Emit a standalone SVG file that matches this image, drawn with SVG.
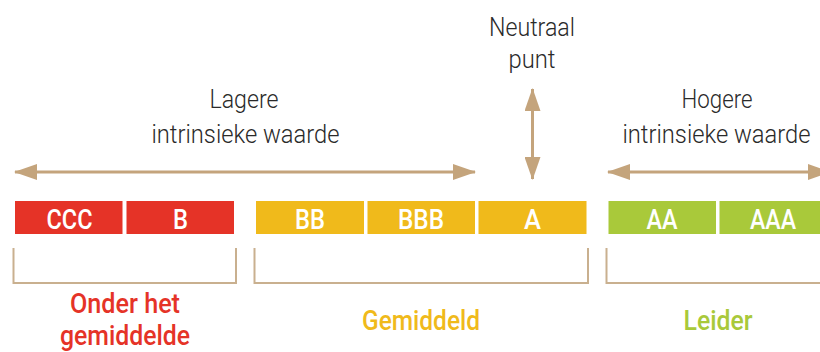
<svg xmlns="http://www.w3.org/2000/svg" width="820" height="352" viewBox="0 0 820 352">
  <defs>
    <marker id="ah" markerUnits="userSpaceOnUse" markerWidth="24" markerHeight="16" refX="22" refY="8" orient="auto-start-reverse" viewBox="0 0 24 16">
      <path d="M0,0 L23,8 L0,16 z" fill="#C4A47C"/>
    </marker>
    <style>
      .conn { stroke: #C4A47C; stroke-width: 3; fill: none; }
      .brk { stroke: #C9B08F; stroke-width: 2; fill: none; }
      .lbl { font-family: Roboto, "Liberation Sans", sans-serif; font-weight: 300; font-size: 25px; fill: #2a2a2a; text-anchor: middle; }
      .bar { font-family: Roboto, "Liberation Sans", sans-serif; font-weight: 500; font-size: 28.5px; fill: #ffffff; text-anchor: middle; }
      .cat { font-family: Roboto, "Liberation Sans", sans-serif; font-weight: 500; font-size: 27.5px; text-anchor: middle; }
      .red { fill: #E53327; }
      .yel { fill: #F0BA1B; }
      .grn { fill: #A9C93A; }
    </style>
  </defs>

  <g id="connectors">
    <line class="conn" x1="15" y1="172" x2="475" y2="172" marker-start="url(#ah)" marker-end="url(#ah)"/>
    <line class="conn" x1="532.5" y1="89" x2="532.5" y2="179" marker-start="url(#ah)" marker-end="url(#ah)"/>
    <line class="conn" x1="608" y1="172" x2="830" y2="172" marker-start="url(#ah)" marker-end="url(#ah)"/>
    <path class="brk" d="M13.5,248 V283 H236 V248"/>
    <path class="brk" d="M254.5,248 V283 H588 V248"/>
    <path class="brk" d="M606.5,248 V283 H830"/>
  </g>

  <g id="label-lagere">
    <text class="lbl" x="244" y="108" textLength="69" lengthAdjust="spacingAndGlyphs">Lagere</text>
    <text class="lbl" x="245.5" y="143" textLength="188" lengthAdjust="spacingAndGlyphs">intrinsieke waarde</text>
  </g>
  <g id="label-neutraal">
    <text class="lbl" x="532" y="35.5" textLength="86" lengthAdjust="spacingAndGlyphs">Neutraal</text>
    <text class="lbl" x="532" y="68" textLength="47" lengthAdjust="spacingAndGlyphs">punt</text>
  </g>
  <g id="label-hogere">
    <text class="lbl" x="717" y="108" textLength="71" lengthAdjust="spacingAndGlyphs">Hogere</text>
    <text class="lbl" x="716.5" y="143" textLength="188" lengthAdjust="spacingAndGlyphs">intrinsieke waarde</text>
  </g>

  <g id="node-ccc">
    <rect class="red" x="15" y="201" width="107.5" height="33"/>
    <text class="bar" x="69.5" y="228.5" textLength="46" lengthAdjust="spacingAndGlyphs">CCC</text>
  </g>
  <g id="node-b">
    <rect class="red" x="126.5" y="201" width="107.5" height="33"/>
    <text class="bar" x="180.5" y="228.5" textLength="15" lengthAdjust="spacingAndGlyphs">B</text>
  </g>
  <g id="node-bb">
    <rect class="yel" x="256" y="201" width="108" height="33"/>
    <text class="bar" x="310" y="228.5" textLength="30" lengthAdjust="spacingAndGlyphs">BB</text>
  </g>
  <g id="node-bbb">
    <rect class="yel" x="367.5" y="201" width="107.5" height="33"/>
    <text class="bar" x="421" y="228.5" textLength="46" lengthAdjust="spacingAndGlyphs">BBB</text>
  </g>
  <g id="node-a">
    <rect class="yel" x="478.5" y="201" width="108" height="33"/>
    <text class="bar" x="532.5" y="228.5" textLength="17" lengthAdjust="spacingAndGlyphs">A</text>
  </g>
  <g id="node-aa">
    <rect class="grn" x="608.5" y="201" width="107.5" height="33"/>
    <text class="bar" x="662" y="228.5" textLength="31" lengthAdjust="spacingAndGlyphs">AA</text>
  </g>
  <g id="node-aaa">
    <rect class="grn" x="719.5" y="201" width="110" height="33"/>
    <text class="bar" x="773" y="228.5" textLength="46" lengthAdjust="spacingAndGlyphs">AAA</text>
  </g>

  <g id="label-onder">
    <text class="cat red" x="125" y="312.5" textLength="110" lengthAdjust="spacingAndGlyphs">Onder het</text>
    <text class="cat red" x="125" y="345" textLength="130" lengthAdjust="spacingAndGlyphs">gemiddelde</text>
  </g>
  <g id="label-gemiddeld">
    <text class="cat yel" x="421" y="330" textLength="118" lengthAdjust="spacingAndGlyphs">Gemiddeld</text>
  </g>
  <g id="label-leider">
    <text class="cat grn" x="718" y="330" textLength="69" lengthAdjust="spacingAndGlyphs">Leider</text>
  </g>
</svg>
